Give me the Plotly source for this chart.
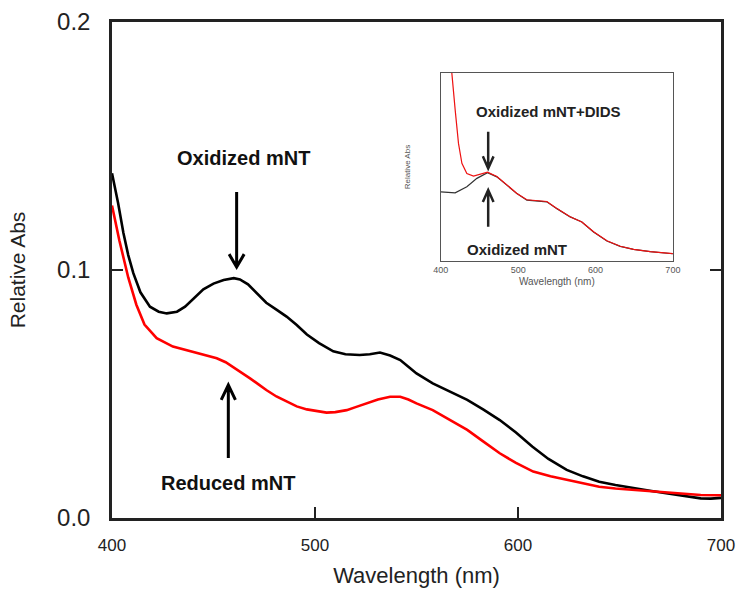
import plotly.graph_objects as go

# ---------------- data ----------------
wl_oxidized = [400, 403, 405.6, 408, 410.5, 414, 418.7, 423, 427, 432, 436, 440, 445, 450, 455, 460,
               463, 467, 471, 476, 481, 486, 491, 496, 502, 509, 515, 522, 527, 532, 537, 542,
               546, 550, 558, 566, 575, 583, 591, 599, 607, 615, 624, 632, 640, 648, 657, 665, 673,
               681, 690, 695, 700]
abs_oxidized = [0.139, 0.127, 0.115, 0.106, 0.0987, 0.091, 0.0852, 0.0832, 0.0825, 0.0832, 0.0852,
                0.0885, 0.0922, 0.0945, 0.0960, 0.0967, 0.0962, 0.0942, 0.0908, 0.0868, 0.0840,
                0.0812, 0.0778, 0.0740, 0.0705, 0.0672, 0.0660, 0.0657, 0.0660, 0.0667,
                0.0655, 0.0637, 0.0610, 0.0583, 0.0543, 0.0510, 0.0476, 0.0437, 0.0395, 0.0345,
                0.0288, 0.0238, 0.0194, 0.0168, 0.0146, 0.0133, 0.0120, 0.0110, 0.0100, 0.0090,
                0.0079, 0.0078, 0.0081]

wl_reduced = [400, 403.6, 408, 412, 416, 422, 430, 437, 443, 451.6, 456, 459.8, 464, 468, 472, 476,
              481, 486, 491, 496, 501, 505.7, 510, 515.6, 520, 525.4, 531, 537, 542, 546, 550, 558,
              566, 575, 583, 591, 599, 607.5, 616, 624, 632, 640, 648, 657, 665, 673, 681, 690, 700]
abs_reduced = [0.126, 0.112, 0.097, 0.086, 0.078, 0.0725, 0.0691, 0.0675, 0.0661, 0.0644, 0.0628,
               0.0608, 0.0585, 0.0563, 0.0540, 0.0516, 0.0490, 0.0469, 0.0450, 0.0438, 0.0430,
               0.0425, 0.0427, 0.0435, 0.0447, 0.0462, 0.0478, 0.0489, 0.0489, 0.0478, 0.0462,
               0.0435, 0.0398, 0.0355, 0.0308, 0.0261, 0.0222, 0.0187, 0.0168, 0.0153, 0.0138,
               0.0126, 0.0119, 0.0113, 0.0107, 0.0102, 0.0098, 0.0093, 0.0092]

# inset (relative units)
inset_wl_ox = [400, 418.5, 433.6, 446.6, 460.3, 472.4, 485.3, 498.3, 511.2, 528.4, 537, 550, 567.2,
               582.3, 597.4, 614.7, 631.9, 649.1, 670.7, 700]
inset_abs_ox = [0.368, 0.363, 0.395, 0.44, 0.47, 0.448, 0.404, 0.359, 0.324, 0.320, 0.315, 0.279,
                0.235, 0.208, 0.155, 0.107, 0.078, 0.062, 0.050, 0.039]
inset_wl_dids = [405, 410, 414.2, 418.5, 422.8, 427.2, 433.6, 442.2, 450.9, 460.3, 472.4, 485.3,
                 498.3, 511.2, 528.4, 537, 550, 567.2, 582.3, 597.4, 614.7, 631.9, 649.1, 670.7, 700]
inset_abs_dids = [1.6, 1.25, 1.0, 0.804, 0.626, 0.52, 0.466, 0.452, 0.463, 0.473, 0.450, 0.406,
                  0.360, 0.326, 0.322, 0.317, 0.280, 0.236, 0.208, 0.156, 0.108, 0.079, 0.062,
                  0.050, 0.040]

x_ticks = [400, 500, 600, 700]
y_ticks = [0.0, 0.1, 0.2]
y_ticktext = ["0.0", "0.1", "0.2"]

FONT = "Liberation Sans, Arial, sans-serif"

fig = go.Figure()
fig.add_trace(go.Scatter(x=wl_oxidized, y=abs_oxidized, mode="lines",
                         line=dict(color="black", width=2.6), showlegend=False))
fig.add_trace(go.Scatter(x=wl_reduced, y=abs_reduced, mode="lines",
                         line=dict(color="#ff0000", width=2.6), showlegend=False))
fig.add_trace(go.Scatter(x=inset_wl_ox, y=inset_abs_ox, mode="lines", xaxis="x2", yaxis="y2",
                         line=dict(color="#333333", width=1.2), showlegend=False))
fig.add_trace(go.Scatter(x=inset_wl_dids, y=inset_abs_dids, mode="lines", xaxis="x2", yaxis="y2",
                         line=dict(color="#ee1111", width=1.2), showlegend=False))


def arrow_path(x, y_tail, y_tip, dx, dy):
    d = dy if y_tip < y_tail else -dy
    return (f"M {x} {y_tail} L {x} {y_tip} "
            f"M {x - dx} {y_tip + d} L {x} {y_tip} L {x + dx} {y_tip + d}")


shapes = [
    dict(type="path", xref="x", yref="y", path=arrow_path(461.4, 0.1315, 0.1012, 3.7, 0.0052),
         line=dict(color="black", width=3)),
    dict(type="path", xref="x", yref="y", path=arrow_path(457.3, 0.0242, 0.0536, 3.5, 0.006),
         line=dict(color="black", width=3)),
    dict(type="path", xref="x2", yref="y2", path=arrow_path(461.2, 0.688, 0.493, 6.9, 0.064),
         line=dict(color="#222222", width=2.5)),
    dict(type="path", xref="x2", yref="y2", path=arrow_path(461.2, 0.182, 0.378, 6.9, 0.064),
         line=dict(color="#222222", width=2.5)),
]

annotations = [
    dict(x=465, y=0.1452, xref="x", yref="y", text="<b>Oxidized mNT</b>", showarrow=False,
         font=dict(size=20, color="#111111", family=FONT)),
    dict(x=457, y=0.0141, xref="x", yref="y", text="<b>Reduced mNT</b>", showarrow=False,
         font=dict(size=20, color="#111111", family=FONT)),
    dict(x=539.7, y=0.798, xref="x2", yref="y2", text="<b>Oxidized mNT+DIDS</b>", showarrow=False,
         font=dict(size=15, color="#222222", family=FONT)),
    dict(x=497.9, y=0.062, xref="x2", yref="y2", text="<b>Oxidized mNT</b>", showarrow=False,
         font=dict(size=15, color="#222222", family=FONT)),
]

fig.update_layout(
    width=740, height=589,
    margin=dict(l=112, r=19, t=22, b=71),
    paper_bgcolor="white", plot_bgcolor="white",
    font=dict(family=FONT, color="#222222"),
    shapes=shapes, annotations=annotations,
    xaxis=dict(range=[400, 700], tickvals=x_ticks, ticks="inside", ticklen=11, tickwidth=2,
               tickcolor="#222222", showline=True, linecolor="#222222", linewidth=2.5, mirror=True,
               showgrid=False, zeroline=False, tickfont=dict(size=17), ticklabelstandoff=10,
               automargin=False,
               title=dict(text="Wavelength (nm)", font=dict(size=22), standoff=14)),
    yaxis=dict(range=[0, 0.2], tickvals=y_ticks, ticktext=y_ticktext, ticks="inside", ticklen=11,
               tickwidth=2, tickcolor="#222222", showline=True, linecolor="#222222", linewidth=2.5,
               mirror="ticks", showgrid=False, zeroline=False, tickfont=dict(size=24),
               ticklabelstandoff=14, automargin=False,
               title=dict(text="Relative Abs", font=dict(size=21), standoff=26)),
    xaxis2=dict(domain=[0.540, 0.921], anchor="y2", range=[400, 700], tickvals=x_ticks,
                ticks="", showline=True, linecolor="#555555", linewidth=1, mirror=True,
                showgrid=False, zeroline=False, tickfont=dict(size=9, color="#555555"),
                automargin=False,
                title=dict(text="Wavelength (nm)", font=dict(size=10, color="#555555"), standoff=4)),
    yaxis2=dict(domain=[0.518, 0.897], anchor="x2", range=[0, 1], showticklabels=False,
                ticks="", showline=True, linecolor="#555555", linewidth=1, mirror=True,
                showgrid=False, zeroline=False, automargin=False,
                title=dict(text="Relative Abs", font=dict(size=8, color="#555555"), standoff=28)),
)

# remove the default page margin so the 740x589 figure fills the window exactly
fig.write_html("out.html",
               config={"displayModeBar": False},
               post_script="document.body.style.margin='0';document.body.style.overflow='hidden';")
